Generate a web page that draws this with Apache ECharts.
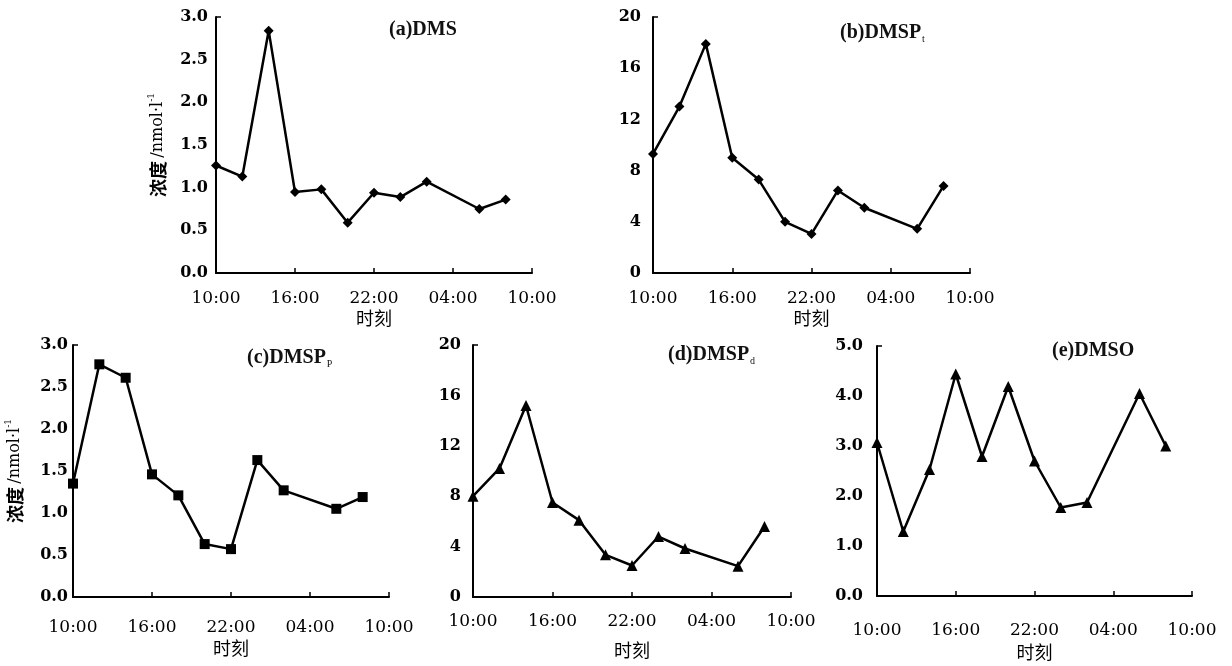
<!DOCTYPE html>
<html><head><meta charset="utf-8">
<script src="https://cdn.jsdelivr.net/npm/echarts@6/dist/echarts.min.js"></script>
<style>html,body{margin:0;padding:0;background:#fff}#c{width:1232px;height:666px}</style>
</head><body><div id="c"></div>
<script>
// sampling times (hours of day), tick labels and measured values
const times = ['10:00','12:00','14:00','16:00','18:00','20:00','22:00','00:00','02:00','06:00','08:00'];
const tickLabels = ['10:00','16:00','22:00','04:00','10:00'];
const dms   = [1.26, 1.13, 2.84, 0.95, 0.98, 0.59, 0.94, 0.89, 1.07, 0.75, 0.86];
const dmspT = [9.3, 13.0, 17.9, 9.0, 7.3, 4.0, 3.05, 6.45, 5.1, 3.45, 6.8];
const dmspP = [1.35, 2.77, 2.61, 1.46, 1.21, 0.63, 0.57, 1.63, 1.27, 1.05, 1.19];
const dmspD = [8.0, 10.2, 15.2, 7.5, 6.1, 3.35, 2.5, 4.8, 3.85, 2.45, 5.6];
const dmso  = [3.07, 1.29, 2.53, 4.44, 2.79, 4.19, 2.70, 1.77, 1.87, 4.05, 3.0];

const hourOffset = t => (parseInt(t, 10) - 10 + 24) % 24;
const SERIF = 'DejaVu Serif';
const TSERIF = 'Liberation Serif';
const CJK = 'Noto Sans CJK SC';

const panels = [
  {data: dms,   title: '{m|(a)DMS}', sym: 'diamond', symSize: 10, max: 3, interval: 0.5, dec: 1,
   grid: {left: 216, top: 17, width: 316, height: 256}, ylab: true, xMargin: 17, nameGap: 36, yMargin: 8,
   tl: {left: 389, top: 19}},
  {data: dmspT, title: '{m|(b)DMSP}{s|t}', sym: 'diamond', symSize: 10, max: 20, interval: 4, dec: 0,
   grid: {left: 653, top: 17, width: 317, height: 256}, ylab: false, xMargin: 17, nameGap: 36, yMargin: 12,
   tl: {left: 840, top: 22}},
  {data: dmspP, title: '{m|(c)DMSP}{s|P}', sym: 'rect', symSize: 10, max: 3, interval: 0.5, dec: 1,
   grid: {left: 73, top: 345, width: 316, height: 252}, ylab: true, xMargin: 22, nameGap: 42, yMargin: 5,
   tl: {left: 247, top: 347}},
  {data: dmspD, title: '{m|(d)DMSP}{s|d}', sym: 'triangle', symSize: 11, max: 20, interval: 4, dec: 0,
   grid: {left: 473, top: 345, width: 318, height: 252}, ylab: false, xMargin: 16, nameGap: 44, yMargin: 12,
   tl: {left: 668, top: 344}},
  {data: dmso,  title: '{m|(e)DMSO}', sym: 'triangle', symSize: 11, max: 5, interval: 1, dec: 1,
   grid: {left: 877, top: 346, width: 315, height: 250}, ylab: false, xMargin: 26, nameGap: 47, yMargin: 14,
   tl: {left: 1052, top: 340}}
];

const titleRich = {
  m: {fontFamily: TSERIF, fontSize: 20, fontWeight: 'bold', color: '#111', lineHeight: 22, verticalAlign: 'middle'},
  s: {fontFamily: TSERIF, fontSize: 10, fontWeight: 'normal', color: '#111', lineHeight: 8, verticalAlign: 'bottom', padding: [0, 0, 0, 1]}
};
const yNameRich = {
  cn: {fontFamily: CJK, fontWeight: 'bold', fontSize: 18, color: '#000', lineHeight: 22},
  u: {fontFamily: SERIF, fontSize: 16, color: '#000', lineHeight: 22},
  sup: {fontFamily: SERIF, fontSize: 9, color: '#000', lineHeight: 10, verticalAlign: 'top'}
};

const option = {
  animation: false,
  backgroundColor: '#fff',
  title: panels.map(p => ({text: p.title, left: p.tl.left, top: p.tl.top, padding: 0,
    textStyle: {fontWeight: 'normal', rich: titleRich}})),
  grid: panels.map(p => Object.assign({containLabel: false}, p.grid)),
  xAxis: panels.map((p, i) => ({
    type: 'value', gridIndex: i, min: 0, max: 24, interval: 6,
    name: '时刻', nameLocation: 'middle', nameGap: p.nameGap, nameMoveOverlap: false,
    nameTextStyle: {fontFamily: CJK, fontSize: 18, color: '#000'},
    axisLine: {show: true, lineStyle: {color: '#000', width: 2}},
    axisTick: {show: true, inside: true, length: 5, lineStyle: {color: '#000', width: 1.5}},
    axisLabel: {margin: p.xMargin, fontFamily: SERIF, fontSize: 17, color: '#000',
      formatter: v => tickLabels[Math.round(v / 6)]},
    splitLine: {show: false}
  })),
  yAxis: panels.map((p, i) => ({
    type: 'value', gridIndex: i, min: 0, max: p.max, interval: p.interval,
    name: p.ylab ? '{cn|浓度} {u|/nmol·l}{sup|-1}' : '',
    nameLocation: 'middle', nameRotate: 90, nameGap: 47, nameMoveOverlap: false,
    nameTextStyle: {rich: yNameRich},
    axisLine: {show: true, lineStyle: {color: '#000', width: 2}},
    axisTick: {show: true, inside: true, length: 5, customValues: [p.max], lineStyle: {color: '#000', width: 1.5}},
    axisLabel: {margin: p.yMargin, fontFamily: SERIF, fontWeight: 'bold', fontSize: 16, color: '#000',
      formatter: v => v.toFixed(p.dec)},
    splitLine: {show: false}
  })),
  series: panels.map((p, i) => ({
    type: 'line', xAxisIndex: i, yAxisIndex: i,
    data: times.map((t, k) => [hourOffset(t), p.data[k]]),
    symbol: p.sym, symbolSize: p.symSize, showSymbol: true,
    lineStyle: {color: '#000', width: 2.5},
    itemStyle: {color: '#000', borderWidth: 0}
  }))
};

const chart = echarts.init(document.getElementById('c'), null, {renderer: 'canvas'});
chart.setOption(option);
</script>
</body></html>
